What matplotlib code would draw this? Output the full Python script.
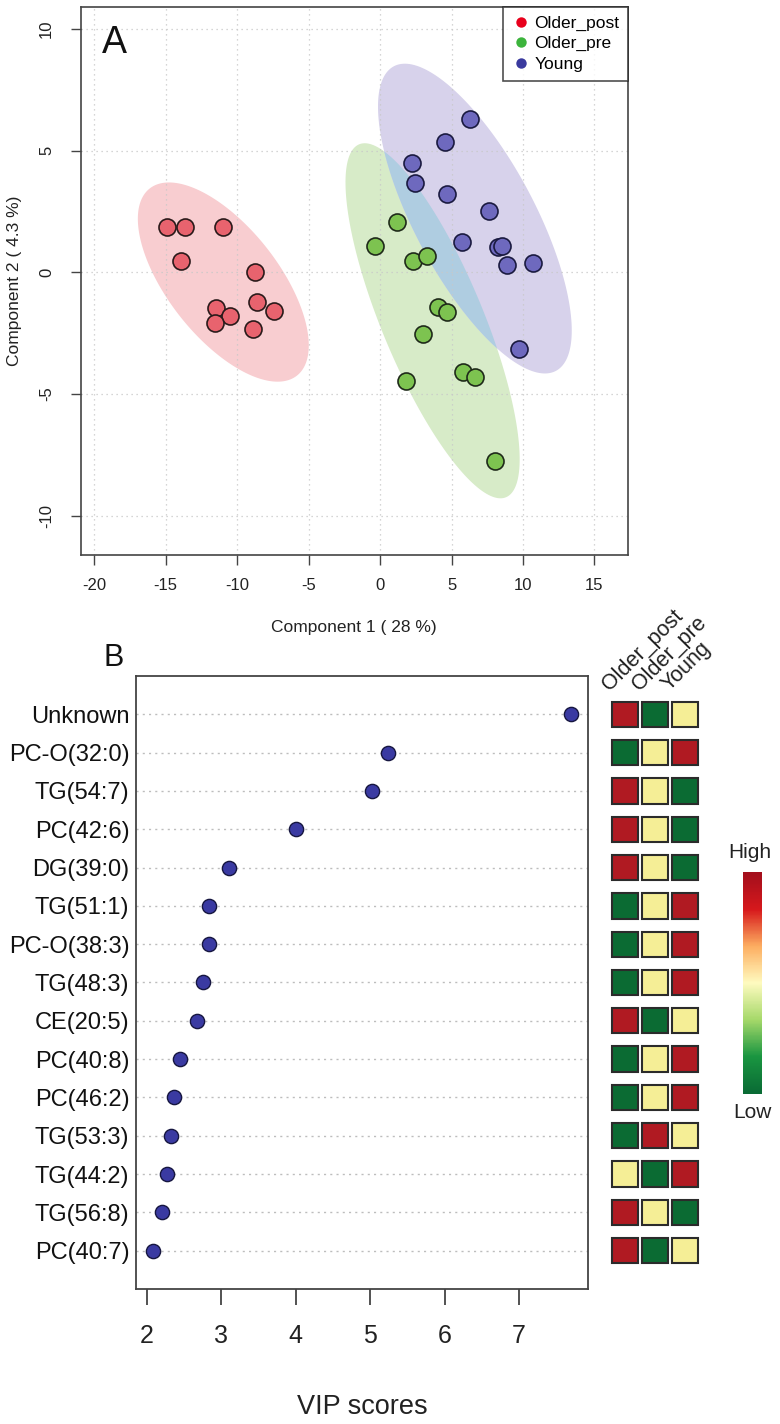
import numpy as np
import matplotlib
matplotlib.use("Agg")
import matplotlib.pyplot as plt
from matplotlib.patches import Polygon, Rectangle
from matplotlib.colors import LinearSegmentedColormap
from matplotlib.lines import Line2D

plt.rcParams['font.family'] = ['Liberation Sans', 'DejaVu Sans']
plt.rcParams['axes.unicode_minus'] = False

# ---- panel A: PLS-DA scores ----
post_x = [-14.91, -13.65, -10.99, -13.93, -8.75, -8.61, -7.42, -11.48, -10.50, -11.55, -8.89]
post_y = [1.86, 1.86, 1.86, 0.46, 0.01, -1.22, -1.59, -1.47, -1.80, -2.08, -2.33]
pre_x = [-0.36, 1.18, 2.30, 3.28, 4.05, 4.68, 3.00, 1.81, 5.80, 6.64, 8.04]
pre_y = [1.08, 2.07, 0.46, 0.67, -1.43, -1.63, -2.54, -4.47, -4.10, -4.30, -7.75]
young_x = [6.29, 4.54, 2.23, 2.44, 4.68, 7.62, 5.73, 8.25, 8.53, 8.88, 10.70, 9.72]
young_y = [6.30, 5.36, 4.49, 3.67, 3.22, 2.52, 1.25, 1.04, 1.08, 0.30, 0.38, -3.15]
group_names = ['Older_post', 'Older_pre', 'Young']

# ---- panel B: VIP scores ----
vip_names = ['Unknown', 'PC-O(32:0)', 'TG(54:7)', 'PC(42:6)', 'DG(39:0)', 'TG(51:1)',
             'PC-O(38:3)', 'TG(48:3)', 'CE(20:5)', 'PC(40:8)', 'PC(46:2)', 'TG(53:3)',
             'TG(44:2)', 'TG(56:8)', 'PC(40:7)']
vip_scores = [7.70, 5.24, 5.02, 4.00, 3.11, 2.84, 2.83, 2.75, 2.67, 2.45, 2.36, 2.32,
              2.27, 2.21, 2.09]
# relative level per group: 0 = low, 1 = mid, 2 = high
heat_post = [2, 0, 2, 2, 2, 0, 0, 0, 2, 0, 0, 0, 1, 2, 2]
heat_pre = [0, 1, 1, 1, 1, 1, 1, 1, 0, 1, 1, 2, 0, 1, 0]
heat_young = [1, 2, 0, 0, 0, 2, 2, 2, 1, 2, 2, 1, 2, 0, 1]

W, H = 780, 1424
fig = plt.figure(figsize=(W / 100, H / 100), dpi=100)


def px(x0, y0, x1, y1):
    # pixel box -> figure fraction rect
    return [x0 / W, 1 - y1 / H, (x1 - x0) / W, (y1 - y0) / H]


def conf_ellipse(x, y, n=200):
    x = np.asarray(x)
    y = np.asarray(y)
    cov = np.cov(x, y)
    vals, vecs = np.linalg.eigh(cov)
    r = np.sqrt(5.991)  # 95% chi-square, 2 dof
    t = np.linspace(0, 2 * np.pi, n)
    circ = np.vstack([np.cos(t), np.sin(t)]) * (r * np.sqrt(vals))[:, None]
    pts = vecs @ circ
    return np.column_stack([pts[0] + x.mean(), pts[1] + y.mean()])


axA = fig.add_axes(px(81, 7, 628, 555))
axA.set_xlim(-20.93, 17.35)
axA.set_ylim(-11.62, 10.9)

ell_post = Polygon(conf_ellipse(post_x, post_y), closed=True, fc='#F8CDD0', ec='none', zorder=0.8)
ell_pre = Polygon(conf_ellipse(pre_x, pre_y), closed=True, fc='#D7EBC8', ec='none', zorder=0.8)
ell_young = Polygon(conf_ellipse(young_x, young_y), closed=True, fc='#D7D2EB', ec='none', zorder=0.8)
for p in (ell_post, ell_pre, ell_young):
    axA.add_patch(p)
# overlap of Older_pre and Young
ov = Polygon(conf_ellipse(pre_x, pre_y), closed=True, fc='#AFCDE1', ec='none', zorder=0.9)
axA.add_patch(ov)
ov.set_clip_path(ell_young)

axA.scatter(post_x, post_y, s=150, c='#E8636E', edgecolors='#2a1a1a', linewidths=1.2, zorder=3)
axA.scatter(pre_x, pre_y, s=150, c='#7DC350', edgecolors='#1f2a1a', linewidths=1.2, zorder=3)
axA.scatter(young_x, young_y, s=150, c='#6E69BE', edgecolors='#1a1a40', linewidths=1.2, zorder=3)

axA.set_xticks([-20, -15, -10, -5, 0, 5, 10, 15])
axA.set_yticks([-10, -5, 0, 5, 10])
axA.grid(True, color='#c8c8c8', linestyle=(0, (1, 3)), linewidth=0.9)
axA.tick_params(direction='out', length=7.5, width=1, color='#444444', labelsize=12,
                labelcolor='#222222', pad=9)
axA.tick_params(axis='y', pad=12)
for lab in axA.get_yticklabels():
    lab.set_rotation(90)
    lab.set_va('center')
for s in axA.spines.values():
    s.set_color('#444444')
    s.set_linewidth(1.2)
axA.text(-19.5, 9.0, 'A', fontsize=27, color='#111111')

handles = [Line2D([], [], marker='o', ls='none', ms=7.5, mfc=c, mec='none')
           for c in ('#E8001C', '#3CB43C', '#3A3A9E')]
leg = axA.legend(handles, group_names, loc='upper right', fontsize=12.5, frameon=True,
                 fancybox=False, borderaxespad=0, handletextpad=0.2, labelspacing=0.3,
                 borderpad=0.5, handlelength=1.1)
leg.get_frame().set_edgecolor('#222222')
leg.get_frame().set_linewidth(1.2)

fig.text(354 / W, 1 - 627 / H, 'Component 1 ( 28 %)', ha='center', va='center', fontsize=12.5,
         color='#222222')
fig.text(15 / W, 1 - 281 / H, 'Component 2 ( 4.3 %)', ha='center', va='center', fontsize=12.5,
         rotation=90, color='#222222')

# ---- panel B ----
axB = fig.add_axes(px(136.3, 676, 587.7, 1289))
rows = np.arange(1, len(vip_names) + 1)
axB.set_xlim(1.86, 7.92)
axB.set_ylim(16, 0)
for r in rows:
    axB.axhline(r, color='#bdbdbd', linestyle=(0, (1.5, 3)), linewidth=1, zorder=1)
axB.scatter(vip_scores, rows, s=105, c='#3A3AA2', edgecolors='#161640', linewidths=1, zorder=3)
axB.set_yticks(rows)
axB.set_yticklabels(vip_names)
axB.set_xticks([2, 3, 4, 5, 6, 7])
axB.tick_params(axis='y', length=0, labelsize=17, pad=5, labelcolor='#111111')
axB.tick_params(axis='x', direction='out', length=11.5, width=1.3, color='#444444',
                labelsize=18, pad=14, labelcolor='#222222')
for s in axB.spines.values():
    s.set_color('#444444')
    s.set_linewidth(1.3)
fig.text(362 / W, 1 - 1407 / H, 'VIP scores', ha='center', va='center', fontsize=19.5,
         color='#222222')
fig.text(114 / W, 1 - 658 / H, 'B', ha='center', va='center', fontsize=22, color='#111111')

# heatmap of group levels
heat_cols = ['#0B6B33', '#F5EE96', '#B01A22']
axH = fig.add_axes(px(610, 676, 700, 1289))
axH.set_xlim(0, 3)
axH.set_ylim(16, 0)
axH.axis('off')
for j, col in enumerate([heat_post, heat_pre, heat_young]):
    for i, lev in enumerate(col):
        axH.add_patch(Rectangle((j + 0.075, rows[i] - 0.331), 0.85, 0.662, fc=heat_cols[lev],
                                ec='#2b2b2b', lw=1.5))
    axH.text(j + 0.1, 0.5, group_names[j], rotation=45, rotation_mode='anchor', ha='left',
             va='bottom', fontsize=15.5, color='#222222', clip_on=False)

# color key
cmap = LinearSegmentedColormap.from_list('key', ['#0a6b35', '#1a9641', '#a6d96a', '#fffbc0',
                                                 '#fdae61', '#d7191c', '#a30f1d'])
axK = fig.add_axes(px(743, 872, 762, 1094))
axK.imshow(np.linspace(1, 0, 200)[:, None], aspect='auto', cmap=cmap)
axK.axis('off')
fig.text(750 / W, 1 - 852 / H, 'High', ha='center', va='center', fontsize=15, color='#222222')
fig.text(752 / W, 1 - 1112 / H, 'Low', ha='center', va='center', fontsize=15, color='#222222')

fig.savefig('out.png', dpi=100)
